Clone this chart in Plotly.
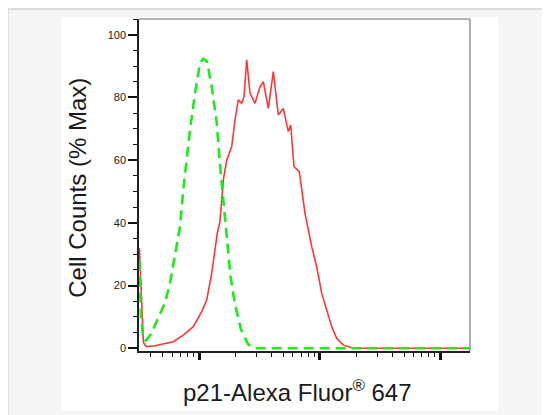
import plotly.graph_objects as go

# ---- data (x = fluorescence intensity, y = % of max) ----
red_x = [32.1, 33.3, 34.6, 35.7, 36.9, 43.2, 50.6, 61.2, 74.1, 89.7,
         105.3, 115.8, 127.4, 141.8, 149.3, 159.0, 169.7, 186.6, 198.7, 211.6,
         225.8, 236.0, 248.5, 264.6, 291.1, 320.1, 341.0, 375.2, 412.7, 453.9,
         499.4, 549.3, 575.0, 612.5, 677.6, 755.3, 858.6, 944.5, 1039, 1143,
         1257, 1383, 1569, 1898, 18000]
red_y = [32, 14, 2, 1, 0.5, 0.8, 1.3, 2.1, 4.2, 6.9,
         11.7, 15.4, 23.9, 36.7, 40.5, 53.7, 60, 64.3, 72.8, 79.2,
         78.1, 80.3, 92, 81.3, 78.1, 83.4, 85, 76.5, 88.2, 74.4,
         76.5, 69.1, 71.2, 57.9, 56.3, 43, 32.4, 26, 17.5, 12.2,
         6.9, 3.2, 1, 0, 0]

green_x = [32.1, 33.1, 34.6, 36.4, 40.0, 46.0, 52.3, 57.5, 63.3, 69.6,
           74.1, 79.1, 84.2, 92.7, 101.9, 108.5, 116.5, 127.4, 140.2, 149.3,
           161.1, 172.2, 182.4, 198.7, 222.8, 254.7, 291.1, 18000]
green_y = [28, 10, 3, 2.5, 4.5, 9.5, 14.5, 20.7, 29.2, 38.8,
           50.5, 61, 69.6, 81.3, 90.9, 92.3, 91.5, 83.5, 72, 58.5,
           45, 32, 23, 14, 6, 1.3, 0, 0]

y_ticks = [0, 20, 40, 60, 80, 100]
x_major = [100, 1000, 10000]
y_title = "Cell Counts (% Max)"
x_title = "p21-Alexa Fluor<sup>®</sup> 647"

FONT = "Liberation Sans, Arial, sans-serif"

fig = go.Figure()
fig.add_trace(go.Scatter(x=red_x, y=red_y, mode="lines",
                         line=dict(color="#ff3535", width=1.6),
                         showlegend=False, hoverinfo="skip"))
fig.add_trace(go.Scatter(x=green_x, y=green_y, mode="lines",
                         line=dict(color="#1ee81e", width=2.6, dash="10px,6px"),
                         showlegend=False, hoverinfo="skip"))

# figure coordinates (page is offset by the 8px body margin)
W, H = 550, 415
L, R, T, B = 131, 88, 11, 72
pw, ph = W - L - R, H - T - B


def px(x):
    return (x - L) / pw


def py(y):
    return (H - B - y) / ph


shapes = [
    # grey rules along top and left edges of the page area
    dict(type="rect", xref="paper", yref="paper", x0=px(-2), x1=px(560), y0=py(-2), y1=py(2),
         fillcolor="#dcdcdc", line_width=0, layer="below"),
    dict(type="rect", xref="paper", yref="paper", x0=px(-2), x1=px(0.8), y0=py(-2), y1=py(420),
         fillcolor="#dcdcdc", line_width=0, layer="below"),
    # white chart panel
    dict(type="rect", xref="paper", yref="paper", x0=px(53), x1=px(490), y0=py(9), y1=py(403),
         fillcolor="white", line_width=0, layer="below"),
    # grey frame top and right
    dict(type="line", xref="paper", yref="paper", x0=0, x1=1, y0=1, y1=1,
         line=dict(color="#9a9a9a", width=1.6), layer="below"),
    dict(type="line", xref="paper", yref="paper", x0=1, x1=1, y0=0, y1=1,
         line=dict(color="#9a9a9a", width=1.6), layer="below"),
]

fig.update_layout(
    width=W, height=H,
    margin=dict(l=L, r=R, t=T, b=B, pad=0),
    paper_bgcolor="#f5f5f5",
    plot_bgcolor="rgba(0,0,0,0)",
    shapes=shapes,
    font=dict(family=FONT, color="#1a1a1a"),
    xaxis=dict(
        type="log", range=[1.503, 4.245],
        showgrid=False, zeroline=False,
        showline=True, linecolor="#222", linewidth=1.5,
        tickmode="array", tickvals=x_major, showticklabels=False,
        ticks="outside", ticklen=7, tickwidth=2.5, tickcolor="#111",
        minor=dict(ticks="outside", dtick="D1", ticklen=4, tickwidth=1.2,
                   tickcolor="#111", showgrid=False),
        layer="below traces",
    ),
    yaxis=dict(
        range=[-0.86, 105],
        showgrid=False, zeroline=False,
        showline=True, linecolor="#222", linewidth=1.5,
        tickmode="array", tickvals=y_ticks,
        ticks="outside", ticklen=9, tickwidth=2, tickcolor="#111",
        tickfont=dict(size=11, family=FONT, color="#1a1a1a"),
        minor=dict(ticks="outside", dtick=5, tick0=0, ticklen=4, tickwidth=1.2,
                   tickcolor="#111", showgrid=False),
        layer="below traces",
    ),
    annotations=[
        dict(text=x_title, xref="paper", yref="paper", x=px(289.4), y=py(383),
             xanchor="center", yanchor="middle", showarrow=False,
             font=dict(size=24, family=FONT, color="#1a1a1a")),
        dict(text=y_title, xref="paper", yref="paper", x=px(69.3), y=py(179.5),
             xanchor="center", yanchor="middle", showarrow=False, textangle=-90,
             font=dict(size=24, family=FONT, color="#1a1a1a")),
    ],
)

fig.write_html("out.html")
